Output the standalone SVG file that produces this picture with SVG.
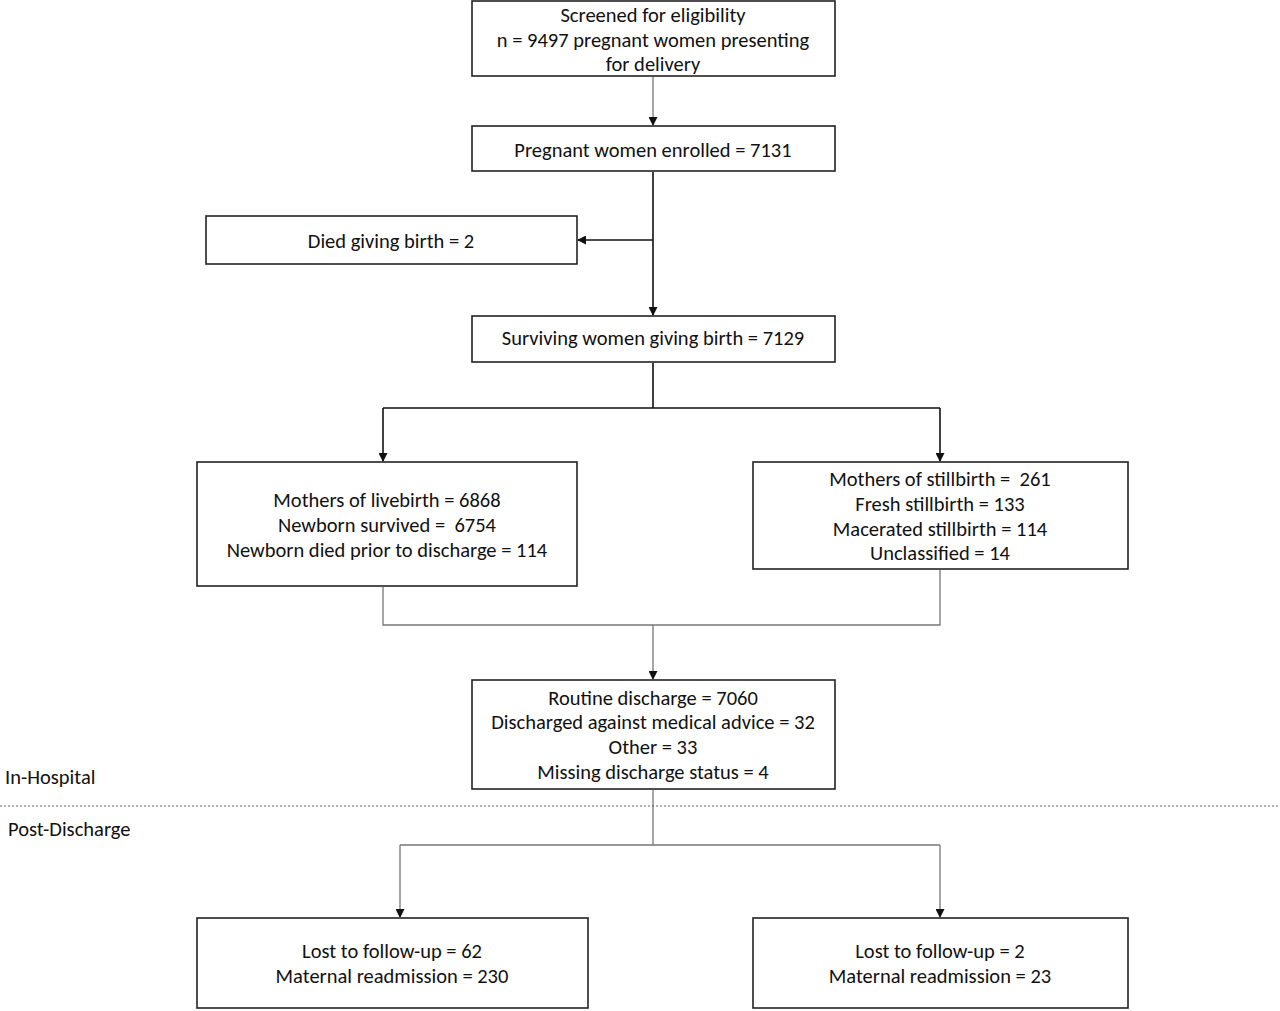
<svg xmlns="http://www.w3.org/2000/svg" width="1280" height="1011" viewBox="0 0 1280 1011">
<defs>
<marker id="ah" markerWidth="9" markerHeight="9" refX="8" refY="4.5" orient="auto" markerUnits="userSpaceOnUse">
<path d="M0,0 L9,4.5 L0,9 z" fill="#111"/>
</marker>
<style>
.box{fill:#fff;stroke:#222;stroke-width:1.6}
.t{font-family:Carlito,Calibri,Lato,"Liberation Sans",sans-serif;font-size:20.5px;fill:#111;text-anchor:middle;white-space:pre}
.lbl{font-family:Carlito,Calibri,Lato,"Liberation Sans",sans-serif;font-size:20.5px;fill:#111}
.c{fill:none;stroke:#111;stroke-width:1.6}
.g{fill:none;stroke:#777;stroke-width:1.3}
</style>
</defs>
<rect width="1280" height="1011" fill="#fff"/>
<g id="connectors">
<path class="g" d="M653,77 V125" marker-end="url(#ah)"/>
<path class="c" d="M653,172 V315" marker-end="url(#ah)"/>
<path class="c" d="M653,240 H578" marker-end="url(#ah)"/>
<path class="c" d="M653,363 V408 M383,408 H940"/>
<path class="c" d="M383,408 V461" marker-end="url(#ah)"/>
<path class="c" d="M940,408 V461" marker-end="url(#ah)"/>
<path class="g" d="M383,587 V625 H940 V570"/>
<path class="g" d="M653,625 V679" marker-end="url(#ah)"/>
<path class="g" d="M653,790 V845 M400,845 H940"/>
<path class="g" d="M400,845 V917" marker-end="url(#ah)"/>
<path class="g" d="M940,845 V917" marker-end="url(#ah)"/>
<path d="M0,806 H1280" stroke="#666" stroke-width="1" stroke-dasharray="2,2"/>
</g>
<g id="screened"><rect class="box" x="472" y="1" width="363" height="75"/>
<text class="t" x="653" y="22">Screened for eligibility</text>
<text class="t" x="653" y="47">n = 9497 pregnant women presenting</text>
<text class="t" x="653" y="71">for delivery</text></g>
<g id="enrolled"><rect class="box" x="472" y="126" width="363" height="45"/>
<text class="t" x="653" y="157">Pregnant women enrolled = 7131</text></g>
<g id="died"><rect class="box" x="206" y="216" width="371" height="48"/>
<text class="t" x="391" y="248">Died giving birth = 2</text></g>
<g id="surviving"><rect class="box" x="472" y="316" width="363" height="46"/>
<text class="t" x="653" y="345">Surviving women giving birth = 7129</text></g>
<g id="livebirth"><rect class="box" x="197" y="462" width="380" height="124"/>
<text class="t" x="387" y="507">Mothers of livebirth = 6868</text>
<text class="t" x="387" y="532" xml:space="preserve">Newborn survived =  6754</text>
<text class="t" x="387" y="557">Newborn died prior to discharge = 114</text></g>
<g id="stillbirth"><rect class="box" x="753" y="462" width="375" height="107"/>
<text class="t" x="940" y="486" xml:space="preserve">Mothers of stillbirth =  261</text>
<text class="t" x="940" y="511">Fresh stillbirth = 133</text>
<text class="t" x="940" y="536">Macerated stillbirth = 114</text>
<text class="t" x="940" y="560">Unclassified = 14</text></g>
<g id="discharge"><rect class="box" x="472" y="680" width="363" height="109"/>
<text class="t" x="653" y="705">Routine discharge = 7060</text>
<text class="t" x="653" y="729">Discharged against medical advice = 32</text>
<text class="t" x="653" y="754">Other = 33</text>
<text class="t" x="653" y="779">Missing discharge status = 4</text></g>
<g id="labels">
<text class="lbl" x="5" y="784">In-Hospital</text>
<text class="lbl" x="8" y="836">Post-Discharge</text></g>
<g id="lost1"><rect class="box" x="197" y="918" width="391" height="90"/>
<text class="t" x="392" y="958">Lost to follow-up = 62</text>
<text class="t" x="392" y="983">Maternal readmission = 230</text></g>
<g id="lost2"><rect class="box" x="753" y="918" width="375" height="90"/>
<text class="t" x="940" y="958">Lost to follow-up = 2</text>
<text class="t" x="940" y="983">Maternal readmission = 23</text></g>
</svg>
